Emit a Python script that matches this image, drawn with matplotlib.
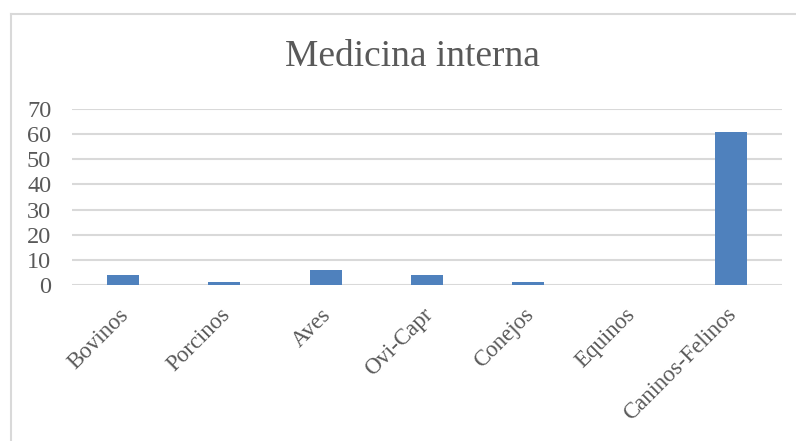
import matplotlib
matplotlib.use("Agg")
import matplotlib.pyplot as plt
from matplotlib.lines import Line2D
from matplotlib.transforms import ScaledTranslation

categories = ["Bovinos", "Porcinos", "Aves", "Ovi-Capr", "Conejos", "Equinos", "Caninos-Felinos"]
values = [4, 1, 6, 4, 1, 0, 61]
yticks = [0, 10, 20, 30, 40, 50, 60, 70]
title = "Medicina interna"

plt.rcParams['font.family'] = ['Liberation Serif', 'DejaVu Serif']
txt = '#595959'

fig = plt.figure(figsize=(7.96, 4.41), dpi=100)
ax = fig.add_axes([72/796, 1-285/441, (782-72)/796, (285-109)/441])
x = list(range(len(categories)))
ax.bar(x, values, width=0.316, color='#4f81bd', zorder=3)
ax.set_xlim(-0.5, len(categories)-0.5)
ax.set_ylim(0, 70)
ax.set_yticks(yticks)
ax.set_yticklabels([str(v) for v in yticks], fontsize=17.5, color=txt)
ax.set_xticks(x)
ax.set_xticklabels(categories, rotation=45, ha='right', rotation_mode='anchor', fontsize=16.5, color=txt)
ax.tick_params(axis='both', length=0)
ax.tick_params(axis='y', pad=15)
ax.tick_params(axis='x', pad=8)
off = ScaledTranslation(-5/100, -8/100, fig.dpi_scale_trans)
for lbl in ax.get_xticklabels():
    lbl.set_transform(lbl.get_transform() + off)
ax.grid(axis='y', color='#d9d9d9', linewidth=1.5, zorder=0)
for s in ax.spines.values():
    s.set_visible(False)

fig.text(412/796, 1-57/441, title, ha='center', va='center', fontsize=27, color=txt)

fig.add_artist(Line2D([10.5/796, 10.5/796], [0, 1-13.5/441], transform=fig.transFigure, color='#d9d9d9', linewidth=1.5))
fig.add_artist(Line2D([10.5/796, 1], [1-13.5/441, 1-13.5/441], transform=fig.transFigure, color='#d9d9d9', linewidth=1.5))

fig.savefig('out.png', dpi=100)
